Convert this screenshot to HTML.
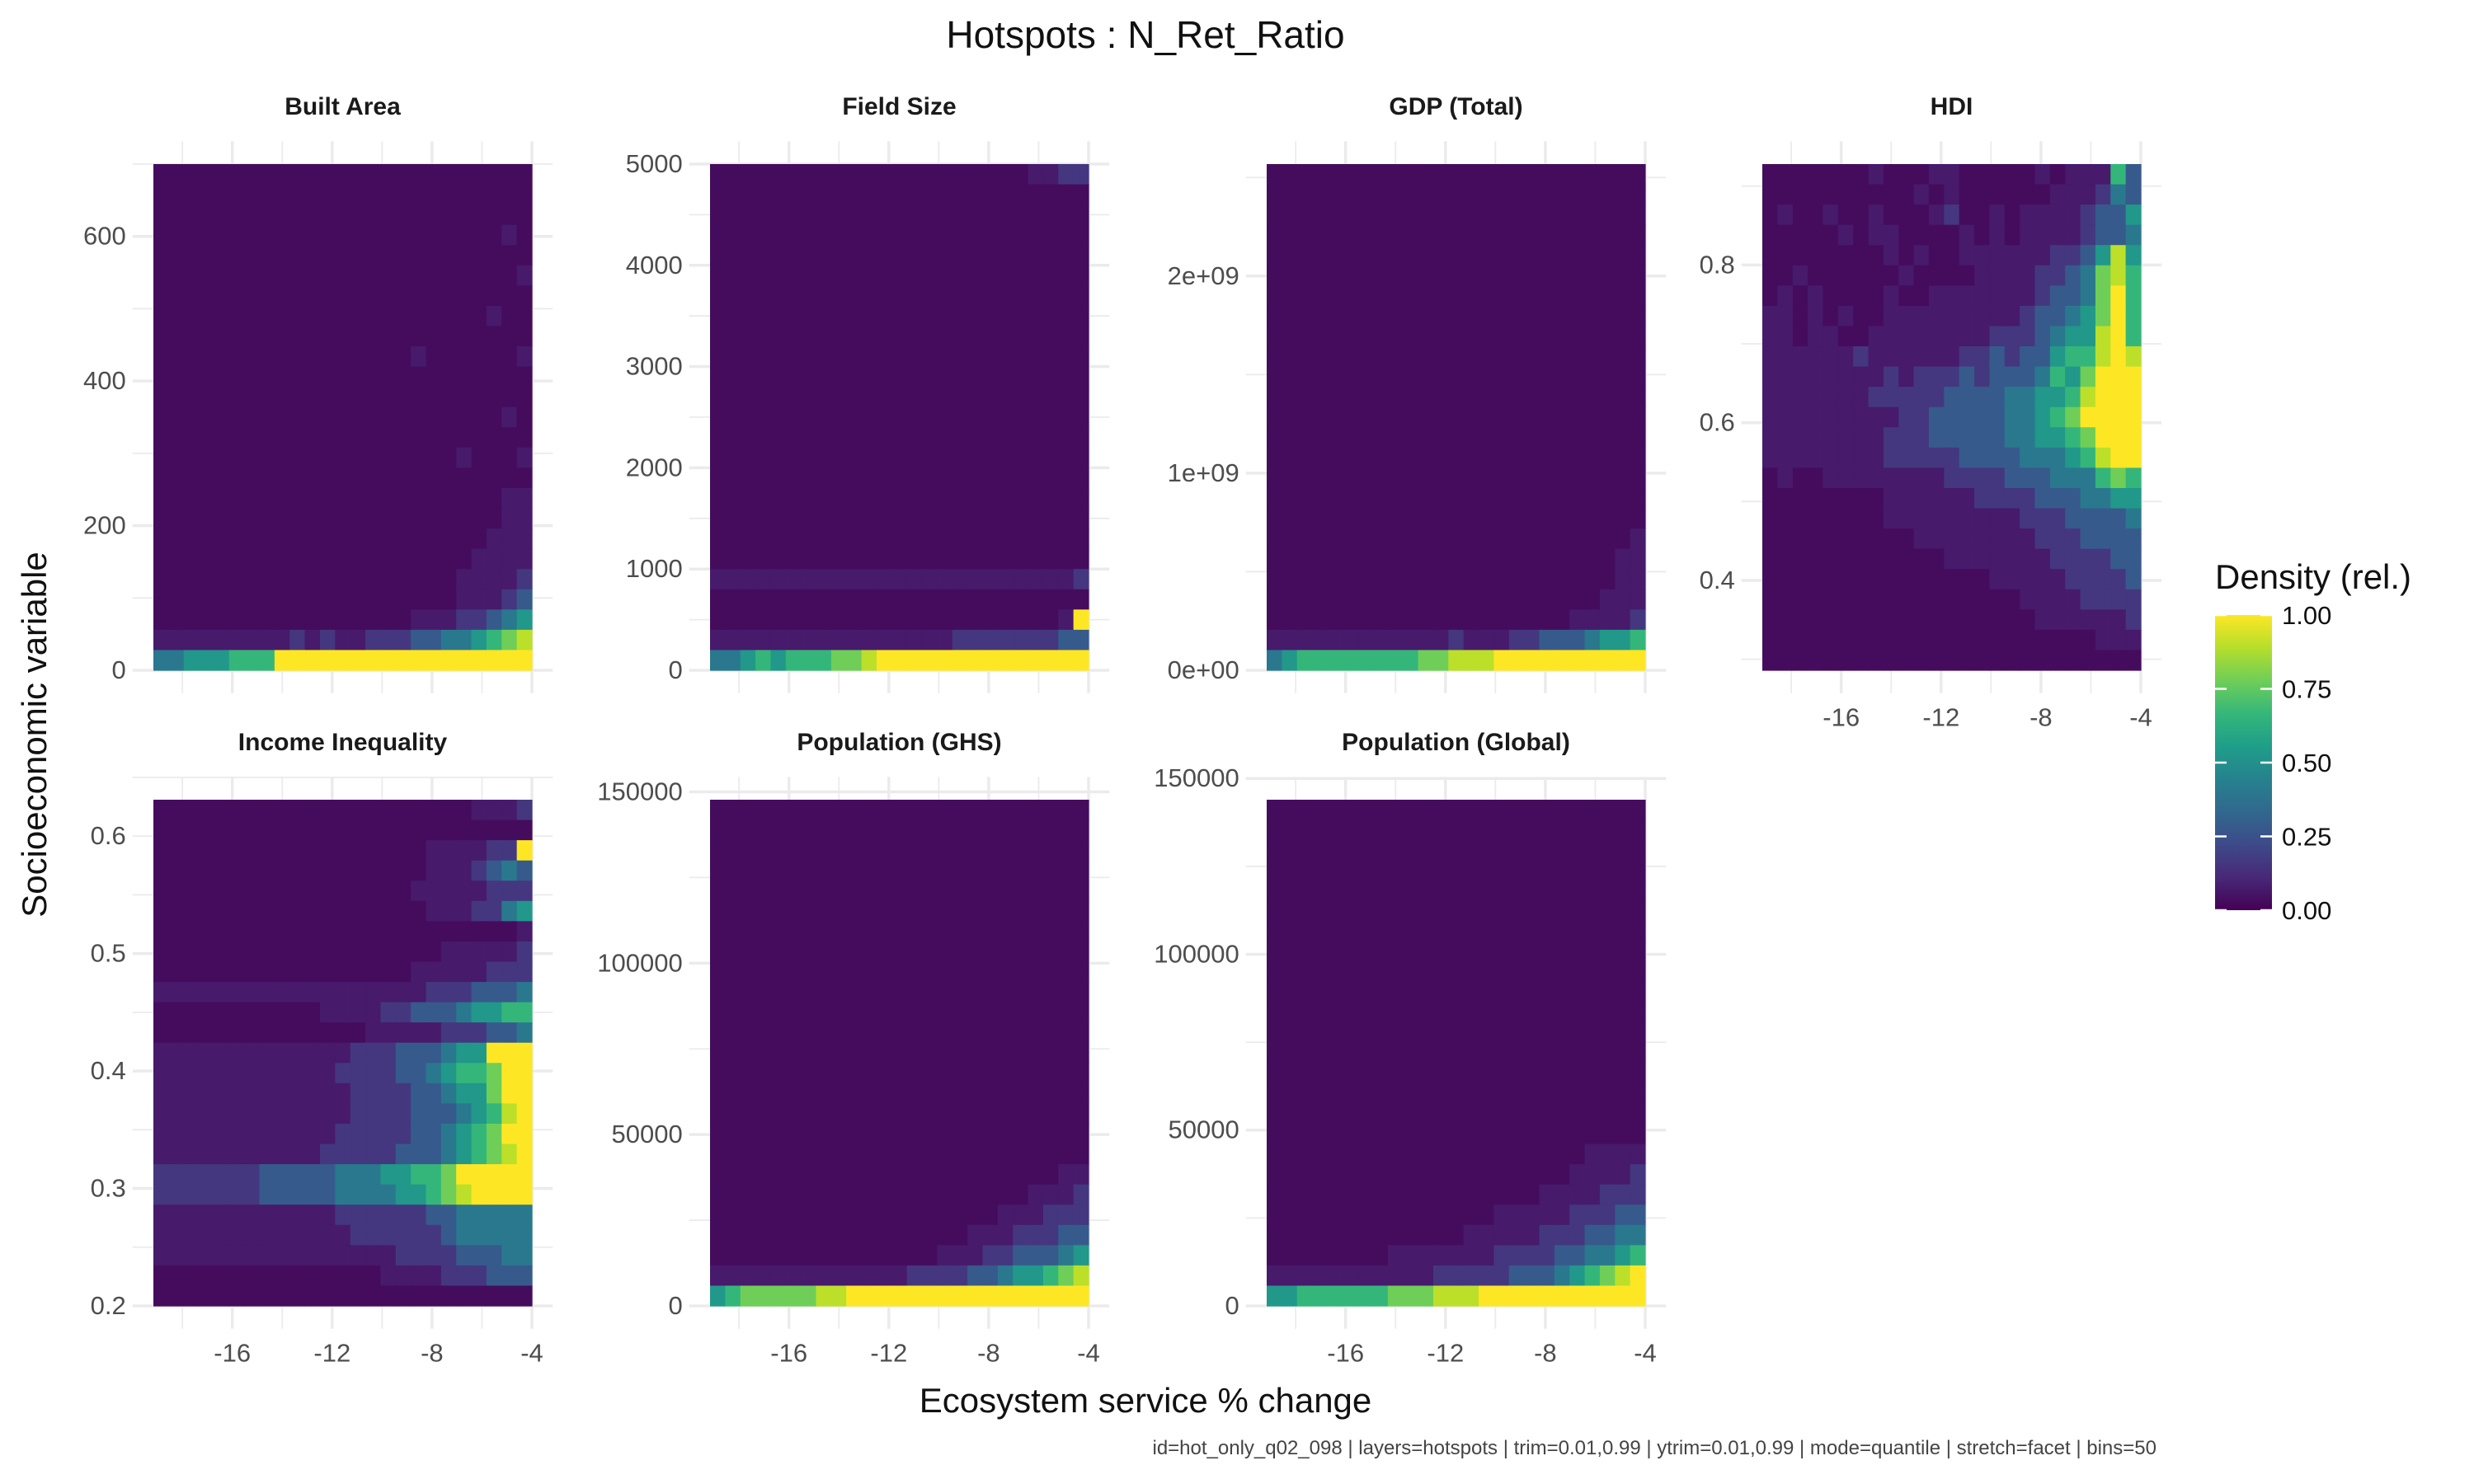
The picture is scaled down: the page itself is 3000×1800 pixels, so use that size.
<!DOCTYPE html>
<html><head><meta charset="utf-8"><style>
html,body{margin:0;padding:0;background:#fff}
svg{display:block;font-family:"Liberation Sans","DejaVu Sans",sans-serif}
</style></head><body>
<svg id="c" xmlns="http://www.w3.org/2000/svg" width="3000" height="1800" viewBox="0 0 3000 1800">
<rect width="3000" height="1800" fill="#fff"/>
<text x="1389" y="58" font-size="46" text-anchor="middle" fill="#111">Hotspots : N_Ret_Ratio</text>
<text x="1389" y="1713" font-size="42" text-anchor="middle" fill="#111">Ecosystem service % change</text>
<text x="0" y="0" font-size="42" text-anchor="middle" fill="#111" transform="translate(56,891) rotate(-90)">Socioeconomic variable</text>
<text x="2615" y="1764" font-size="24" text-anchor="end" fill="#444">id=hot_only_q02_098 | layers=hotspots | trim=0.01,0.99 | ytrim=0.01,0.99 | mode=quantile | stretch=facet | bins=50</text>
<g id="panels"></g>
<g id="legend"></g>
</svg>
<script>
// ---- data ----
const panelTitles = ["Built Area","Field Size","GDP (Total)","HDI","Income Inequality","Population (GHS)","Population (Global)"];
const xDomain = [-19.16, -4];
const xTicks = [-16,-12,-8,-4];
const xMinor = [-18,-14,-10,-6];
const yDomains = [[0,700],[0,5000],[0,2.568e9],[0.286,0.928],[0.2,0.631],[0,147700],[0,143950]];
const yTicks = [[0,200,400,600],[0,1000,2000,3000,4000,5000],[0,1e9,2e9],[0.4,0.6,0.8],[0.2,0.3,0.4,0.5,0.6],[0,50000,100000,150000],[0,50000,100000,150000]];
const yTickLabels = [["0","200","400","600"],["0","1000","2000","3000","4000","5000"],["0e+00","1e+09","2e+09"],["0.4","0.6","0.8"],["0.2","0.3","0.4","0.5","0.6"],["0","50000","100000","150000"],["0","50000","100000","150000"]];
const legendTicks = [0,0.25,0.5,0.75,1];
const legendLabels = ["0.00","0.25","0.50","0.75","1.00"];
const levelValues = [0.03,0.07,0.16,0.28,0.4,0.53,0.66,0.78,0.9,1];
const Z = "0000000000000000000000000";
const densBuilt = [Z,Z,Z,"0000000000000000000000010",Z,"0000000000000000000000001",Z,"0000000000000000000000100",Z,"0000000000000000010000001",Z,Z,"0000000000000000000000010",Z,"0000000000000000000010001",Z,"0000000000000000000000011","0000000000000000000000011","0000000000000000000000111","0000000000000000000001111","0000000000000000000011112","0000000000000000000011123","0000000000000000011122345","1111111112121122233445678","4455566699999999999999999"];
const densField = ["0000000000000000000001122",Z,Z,Z,Z,Z,Z,Z,Z,Z,Z,Z,Z,Z,Z,Z,Z,Z,Z,Z,"1111111111111111111111112",Z,"0000000000000000000000019","1111111111111111222222233","4456566677899999999999999"];
const densGDP = [Z,Z,Z,Z,Z,Z,Z,Z,Z,Z,Z,Z,Z,Z,Z,Z,Z,Z,"0000000000000000000000001","0000000000000000000000011","0000000000000000000000011","0000000000000000000000111","0000000000000000000011112","1111111111112111223334556","4566666666778889999999999"];
const densHDI = ["0000000100011000001011163","0000000000101000000111243","0100100100012001011112335","0000010110000101011112334","0000000010100111111223585","0010000001000011112234786","0101000010011111112334796","1101010011111111123345796","1101100111111112223455896","1111112111111223233566898","1111111121222323334657999","1111111222223333445568999","1111111112233333445679999","1111111122233333445567999","1111111122222333344456899","0100111111112222333444676","0000000011111122223334455","0000000011111111122233334","0000000000111111112223333","0000000000001111111222233","0000000000000001111122223","0000000000000000011112222","0000000000000000001111112","0000000000000000000000111",Z];
const densIncome = ["0000000000000000000001112",Z,"0000000000000000001111229","0000000000000000001112343","0000000000000000011111222","0000000000000000001112245","0000000000000000000000001","0000000000000000000111112","0000000000000000011111222","1111111111111111112223334","0000000000011112233345566","0000000000000011111222334","1111111111111222333455999","1111111111112222334566799","1111111111111222233455799","1111111111111222233345689","1111111111112222233456799","1111111111122222333456789","2222222333334445566799999","2222222333334444556789999","1111111111112222223344444","1111111111111222222344444","1111111111111111222233344","0000000000000001111222333",Z];
const densGHS = [Z,Z,Z,Z,Z,Z,Z,Z,Z,Z,Z,Z,Z,Z,Z,Z,Z,Z,"0000000000000000000000011","0000000000000000000001112","0000000000000000000111222","0000000000000000011122233","0000000000000001112233345","1111111111111222233455678","5677777889999999999999999"];
const densGlobal = [Z,Z,Z,Z,Z,Z,Z,Z,Z,Z,Z,Z,Z,Z,Z,Z,Z,"0000000000000000000001111","0000000000000000000011112","0000000000000000001111222","0000000000000001111122233","0000000000000111112223344","0000000011111112222334456","1111111111122222333456789","5566666677788899999999999"];
const densities = [densBuilt,densField,densGDP,densHDI,densIncome,densGHS,densGlobal];

// ---- layout ----
const NS="http://www.w3.org/2000/svg";
const colX=[[186,645],[861,1320],[1536,1995],[2137,2596]];
const rowY=[[199,813],[970,1584]];
const pos=[[0,0],[1,0],[2,0],[3,0],[0,1],[1,1],[2,1]];
const vir=["#440154","#482878","#3e4a89","#31688e","#26828e","#1f9e89","#35b779","#6ece58","#b5de2b","#fde725"];
function hex(h){return [parseInt(h.slice(1,3),16),parseInt(h.slice(3,5),16),parseInt(h.slice(5,7),16)];}
function viridis(t){t=Math.max(0,Math.min(1,t))*9;const i=Math.min(8,Math.floor(t)),f=t-i;const a=hex(vir[i]),b=hex(vir[i+1]);return "rgb("+a.map((v,k)=>Math.round(v+(b[k]-v)*f)).join(",")+")";}
function mk(tag,attrs,parent){const e=document.createElementNS(NS,tag);for(const k in attrs)e.setAttribute(k,attrs[k]);parent.appendChild(e);return e;}
const root=document.getElementById("panels");
panelTitles.forEach((title,p)=>{
  const [ci,ri]=pos[p];const [x0,x1]=colX[ci];const [y0,y1]=rowY[ri];
  const g=mk("g",{},root);
  
  
  const xs=v=>x0+(v-xDomain[0])/(xDomain[1]-xDomain[0])*(x1-x0);
  const yd=yDomains[p];
  const ys=v=>y1-(v-yd[0])/(yd[1]-yd[0])*(y1-y0);
  const ex=(x1-x0)*0.055, ey=(y1-y0)*0.045;
  const yt=yTicks[p];
  const step=yt[1]-yt[0];
  for(let v=yt[0]-step/2;v<=yd[1]+step;v+=step/2){const y=ys(v);if(y<y0-ey||y>y1+ey)continue;
    const ln=mk("line",{x1:x0-ex,x2:x1+ex,y1:y,y2:y,stroke:"#ebebeb","stroke-width":(Math.abs(((v-yt[0])/step)%1)<1e-6)?3.5:1.8},g);
    }
  xTicks.concat(xMinor).forEach((v,i)=>{const x=xs(v);
    const ln=mk("line",{x1:x,x2:x,y1:y0-ey,y2:y1+ey,stroke:"#ebebeb","stroke-width":i<xTicks.length?3.5:1.8},g);
    });
  const d=densities[p];const nr=d.length,nc=d[0].length;
  for(let r=0;r<nr;r++)for(let c=0;c<nc;c++){
    const t=levelValues[+d[r][c]];
    const xa=xs(xDomain[0]+c/nc*(xDomain[1]-xDomain[0])),xb=xs(xDomain[0]+(c+1)/nc*(xDomain[1]-xDomain[0]));
    const ya=ys(yd[1]-r/nr*(yd[1]-yd[0])),yb=ys(yd[1]-(r+1)/nr*(yd[1]-yd[0]));
    const rc=mk("rect",{x:xa,y:ya,width:xb-xa+0.6,height:yb-ya+0.6,fill:viridis(t)},g);
    
  }
  const st=mk("text",{x:(x0+x1)/2,y:y0-60,"font-size":30,"font-weight":"bold","text-anchor":"middle",fill:"#1a1a1a"},g);
  st.textContent=title;
  yt.forEach((v,i)=>{const t=mk("text",{x:x0-ex-8,y:ys(v)+10,"font-size":31,"text-anchor":"end",fill:"#4d4d4d"},g);
    t.textContent=yTickLabels[p][i];});
  if(ri===1||ci===3){xTicks.forEach(v=>{const t=mk("text",{x:xs(v),y:y1+ey+40,"font-size":31,"text-anchor":"middle",fill:"#4d4d4d"},g);
    t.textContent=String(v);});}
});
const L=document.getElementById("legend");
const lx=2686,lw=69,ly0=746,ly1=1104;
const lt=mk("text",{x:lx,y:714,"font-size":42,fill:"#111"},L);lt.textContent="Density (rel.)";

const defs=mk("defs",{},L);const lg=mk("linearGradient",{id:"vg",x1:0,y1:1,x2:0,y2:0},defs);
vir.forEach((c,i)=>mk("stop",{offset:i/9,"stop-color":c},lg));
const bar=mk("rect",{x:lx,y:ly0,width:lw,height:ly1-ly0,fill:"url(#vg)"},L);

legendTicks.forEach((v,i)=>{const y=ly1-v*(ly1-ly0);
  mk("line",{x1:lx,x2:lx+14,y1:y,y2:y,stroke:"#fff","stroke-width":2.5},L);
  mk("line",{x1:lx+lw-14,x2:lx+lw,y1:y,y2:y,stroke:"#fff","stroke-width":2.5},L);
  const t=mk("text",{x:lx+lw+12,y:y+11,"font-size":31,fill:"#111"},L);t.textContent=legendLabels[i];
  });
</script>
</body></html>
